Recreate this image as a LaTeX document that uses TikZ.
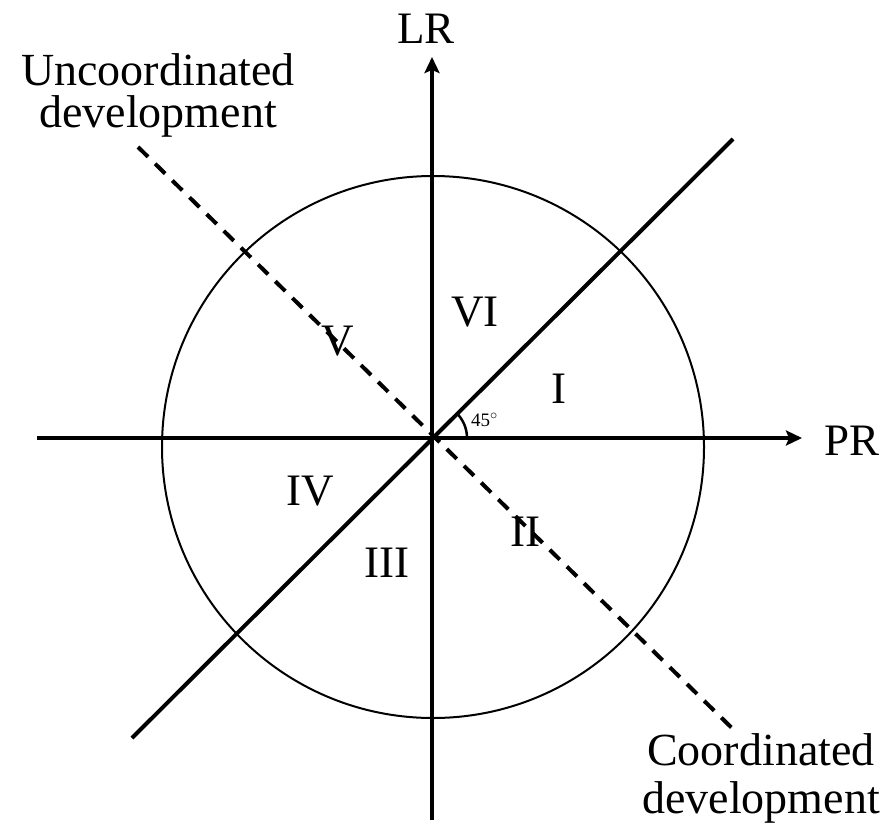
\documentclass[tikz,border=0pt]{standalone}
\usepackage{fontspec}
\setmainfont{Liberation Serif}
\usetikzlibrary{arrows.meta}
\begin{document}
\begin{tikzpicture}[x=1pt,y=-1pt,
  axisline/.style={line width=4pt,-{Stealth[length=16pt,width=15pt,inset=3pt]}},
  diagline/.style={line width=4pt},
  dashline/.style={line width=4pt,dash pattern=on 14pt off 10pt},
  ringline/.style={line width=2pt},
  biglabel/.style={font=\fontsize{46}{42}\selectfont,inner sep=0pt,align=center},
  numlabel/.style={font=\fontsize{45}{45}\selectfont,inner sep=0pt,anchor=base},
  anglabel/.style={font=\fontsize{19}{19}\selectfont,inner sep=0pt,anchor=base west}]
\useasboundingbox (0,0) rectangle (888,830);
% key points
\coordinate (O) at (432,438);
\coordinate (C) at (433,447);
\coordinate (ybot) at (432,820);
\coordinate (ytop) at (432,57);
\coordinate (xleft) at (37,438);
\coordinate (xright) at (802,438);
\coordinate (dA) at (132,738);
\coordinate (dB) at (733,139);
\coordinate (eA) at (138,147);
\coordinate (eB) at (737,733);
% circle
\draw[ringline] (C) circle[radius=271];
% axes
\draw[axisline] (ybot) -- (ytop);
\draw[axisline] (xleft) -- (xright);
% diagonals
\draw[diagline] (dA) -- (dB);
\draw[dashline] (eA) -- (eB);
% angle arc
\draw[line width=2.5pt] ([xshift=35pt]O) arc[start angle=0,end angle=-45,radius=35];
% labels
\node[numlabel] (lr) at (426,43) {LR};
\node[numlabel] (pr) at (852,455) {PR};
\node[numlabel] (r6) at (475,326) {VI};
\node[numlabel] (r1) at (559,403) {I};
\node[numlabel] (r5) at (338,355) {V};
\node[numlabel] (r4) at (310,505) {IV};
\node[numlabel] (r3) at (387,577) {III};
\node[numlabel] (r2) at (525,546) {II};
\node[anglabel] (ang) at (471,426) {45$^{\circ}$};
\node[biglabel,anchor=north] (unc) at (158,53) {Uncoordinated\\development};
\node[biglabel,anchor=north,font=\fontsize{46}{48}\selectfont] (coo) at (761,733) {Coordinated\\development};
\end{tikzpicture}
\end{document}
